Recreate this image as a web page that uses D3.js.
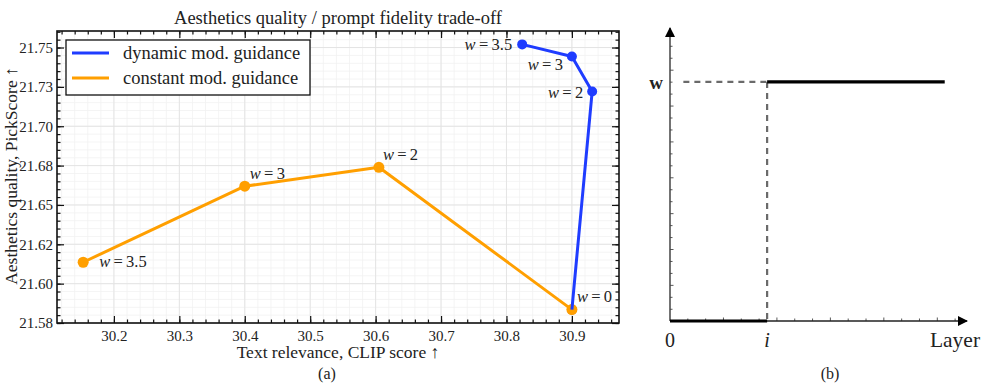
<!DOCTYPE html>
<html>
<head>
<meta charset="utf-8">
<script src="https://cdn.jsdelivr.net/npm/d3@7"></script>
<style>
  body { margin: 0; background: #fff; }
  svg text { font-family: "Liberation Serif", "DejaVu Serif", serif; fill: #222; }
</style>
</head>
<body>
<svg id="chart" width="997" height="387"></svg>
<script>
// panel (a) data
const wLabels = ["0", "2", "3", "3.5"];
const dynamicClip = [30.900, 30.931, 30.900, 30.824];
const dynamicPick = [21.5835, 21.7221, 21.7443, 21.7520];
const constantClip = [30.900, 30.605, 30.400, 30.153];
const constantPick = [21.5835, 21.6739, 21.6619, 21.6136];
const yTicks = [21.575, 21.6, 21.625, 21.65, 21.675, 21.7, 21.725, 21.75];
const yTickLabels = ["21.58", "21.60", "21.62", "21.65", "21.68", "21.70", "21.73", "21.75"];
const xTicks = [30.2, 30.3, 30.4, 30.5, 30.6, 30.7, 30.8, 30.9];
const xTickLabels = ["30.2", "30.3", "30.4", "30.5", "30.6", "30.7", "30.8", "30.9"];

// label placement per point (dx, dy, anchor)
const dynamicLabelPos = [null, [-9, 7, "end"], [-9, 13, "end"], [-10, 6, "end"]];
const constantLabelPos = [[5, -8, "start"], [4, -7, "start"], [5, -7, "start"], [16, 5, "start"]];

// panel (b) schematic: step of the guidance scale over layers
const stepLayer = [0, 0.327, 0.327, 0.925];
const stepScale = [0, 0, 0.816, 0.816];
const iLayer = 0.327, wLevel = 0.816;

const blue = "#1f3cff", orange = "#ff9f00";

const svg = d3.select("#chart");

// ---------- panel (a) ----------
const m = { left: 57, top: 31, right: 619, bottom: 323 };
const x = d3.scaleLinear().domain([30.113, 30.972]).range([m.left, m.right]);
const y = d3.scaleLinear().domain([21.575, 21.7605]).range([m.bottom, m.top]);

const a = svg.append("g");

const xMinor = d3.range(30.12, 30.97, 0.02);
const yMinor = d3.range(21.575, 21.76, 0.005);

// grid
a.append("g").selectAll("line").data(xMinor).join("line")
  .attr("x1", d => x(d)).attr("x2", d => x(d)).attr("y1", m.top).attr("y2", m.bottom)
  .attr("stroke", "#f1f1f1").attr("stroke-width", 0.8);
a.append("g").selectAll("line").data(yMinor).join("line")
  .attr("y1", d => y(d)).attr("y2", d => y(d)).attr("x1", m.left).attr("x2", m.right)
  .attr("stroke", "#f1f1f1").attr("stroke-width", 0.8);
a.append("g").selectAll("line").data(xTicks).join("line")
  .attr("x1", d => x(d)).attr("x2", d => x(d)).attr("y1", m.top).attr("y2", m.bottom)
  .attr("stroke", "#e2e2e2").attr("stroke-width", 0.9);
a.append("g").selectAll("line").data(yTicks).join("line")
  .attr("y1", d => y(d)).attr("y2", d => y(d)).attr("x1", m.left).attr("x2", m.right)
  .attr("stroke", "#e2e2e2").attr("stroke-width", 0.9);

// axes with inward ticks on all sides
function styleAxis(g) {
  g.select(".domain").remove();
  g.selectAll(".tick line").attr("stroke", "#111").attr("stroke-width", 1.2);
  g.selectAll("text").attr("font-size", 15).attr("font-family", "Liberation Serif").attr("fill", "#222");
}
a.append("g").attr("transform", `translate(0,${m.bottom})`)
  .call(d3.axisBottom(x).tickValues(xTicks).tickSize(-7).tickPadding(7)
    .tickFormat((d, i) => xTickLabels[i])).call(styleAxis);
a.append("g").attr("transform", `translate(0,${m.bottom})`)
  .call(d3.axisBottom(x).tickValues(xMinor).tickSize(-3.5).tickFormat("")).call(styleAxis);
a.append("g").attr("transform", `translate(0,${m.top})`)
  .call(d3.axisTop(x).tickValues(xTicks).tickSize(-7).tickFormat("")).call(styleAxis);
a.append("g").attr("transform", `translate(0,${m.top})`)
  .call(d3.axisTop(x).tickValues(xMinor).tickSize(-3.5).tickFormat("")).call(styleAxis);
a.append("g").attr("transform", `translate(${m.left},0)`)
  .call(d3.axisLeft(y).tickValues(yTicks).tickSize(-7).tickPadding(4)
    .tickFormat((d, i) => yTickLabels[i])).call(styleAxis);
a.append("g").attr("transform", `translate(${m.left},0)`)
  .call(d3.axisLeft(y).tickValues(yMinor).tickSize(-3.5).tickFormat("")).call(styleAxis);
a.append("g").attr("transform", `translate(${m.right},0)`)
  .call(d3.axisRight(y).tickValues(yTicks).tickSize(-7).tickFormat("")).call(styleAxis);
a.append("g").attr("transform", `translate(${m.right},0)`)
  .call(d3.axisRight(y).tickValues(yMinor).tickSize(-3.5).tickFormat("")).call(styleAxis);

a.append("rect").attr("x", m.left).attr("y", m.top)
  .attr("width", m.right - m.left).attr("height", m.bottom - m.top)
  .attr("fill", "none").attr("stroke", "#111").attr("stroke-width", 1.6);

// series
const line = d3.line().x(d => x(d[0])).y(d => y(d[1]));
const dynPts = dynamicClip.map((v, i) => [v, dynamicPick[i]]);
const conPts = constantClip.map((v, i) => [v, constantPick[i]]);

function drawLabels(pts, labelPos) {
  pts.forEach((p, i) => {
    const lp = labelPos[i];
    if (!lp) return;
    const t = a.append("text").attr("x", x(p[0]) + lp[0]).attr("y", y(p[1]) + lp[1])
      .attr("text-anchor", lp[2]).attr("font-size", 16.5);
    t.append("tspan").attr("font-style", "italic").text("w");
    t.append("tspan").text("\u2009=\u2009" + wLabels[i]);
  });
}

// blue markers (w = 0 is covered by the orange one), then orange, then blue line on top
a.append("g").selectAll("circle").data(dynPts).join("circle")
  .attr("cx", d => x(d[0])).attr("cy", d => y(d[1])).attr("r", 5).attr("fill", blue);
a.append("path").datum(conPts).attr("d", line)
  .attr("fill", "none").attr("stroke", orange).attr("stroke-width", 3).attr("stroke-linejoin", "round");
a.append("g").selectAll("circle").data(conPts).join("circle")
  .attr("cx", d => x(d[0])).attr("cy", d => y(d[1])).attr("r", 5.5).attr("fill", orange);
a.append("path").datum(dynPts).attr("d", line)
  .attr("fill", "none").attr("stroke", blue).attr("stroke-width", 3).attr("stroke-linejoin", "round");
drawLabels(conPts, constantLabelPos);
drawLabels(dynPts, dynamicLabelPos);

// legend
const lg = a.append("g").attr("transform", "translate(66,40)");
lg.append("rect").attr("width", 244).attr("height", 55).attr("fill", "#fff")
  .attr("stroke", "#111").attr("stroke-width", 1.3);
[["dynamic mod. guidance", blue], ["constant mod. guidance", orange]].forEach((e, i) => {
  lg.append("line").attr("x1", 6).attr("x2", 43).attr("y1", 13 + i * 25).attr("y2", 13 + i * 25)
    .attr("stroke", e[1]).attr("stroke-width", 3);
  lg.append("text").attr("x", 57).attr("y", 19 + i * 25).attr("font-size", 18.5).text(e[0]);
});

// titles
a.append("text").attr("x", 338).attr("y", 24).attr("text-anchor", "middle")
  .attr("font-size", 18.5).text("Aesthetics quality / prompt fidelity trade-off");
a.append("text").attr("x", 338).attr("y", 358).attr("text-anchor", "middle")
  .attr("font-size", 17.5).text("Text relevance, CLIP score \u2191");
a.append("text").attr("transform", "translate(17,176) rotate(-90)").attr("text-anchor", "middle")
  .attr("font-size", 17.5).text("Aesthetics quality, PickScore \u2191");
a.append("text").attr("x", 327).attr("y", 379).attr("text-anchor", "middle")
  .attr("font-size", 16).text("(a)");

// ---------- panel (b) ----------
const bx = d3.scaleLinear().domain([0, 1]).range([670, 967]);
const by = d3.scaleLinear().domain([0, 1]).range([321, 28]);
const b = svg.append("g");

const defs = svg.append("defs");
defs.append("marker").attr("id", "arrow").attr("viewBox", "0 0 10 10")
  .attr("refX", 9).attr("refY", 5).attr("markerWidth", 10).attr("markerHeight", 10)
  .attr("markerUnits", "userSpaceOnUse").attr("orient", "auto")
  .append("path").attr("d", "M0,0 L10,5 L0,10 Z").attr("fill", "#000");

// minor ticks on the schematic axes
const bYTicks = d3.range(0.04, 0.98, 0.0408);
const bXTicks = d3.range(0.06, 0.97, 0.06);
b.append("g").selectAll("line").data(bYTicks).join("line")
  .attr("x1", bx(0)).attr("x2", (d, i) => bx(0) + (i % 3 === 2 ? 3.5 : 2.5))
  .attr("y1", d => by(d)).attr("y2", d => by(d)).attr("stroke", "#444").attr("stroke-width", 0.9);
b.append("g").selectAll("line").data(bXTicks).join("line")
  .attr("x1", d => bx(d)).attr("x2", d => bx(d))
  .attr("y1", by(0)).attr("y2", (d, i) => by(0) - (i % 3 === 2 ? 3.5 : 2.5))
  .attr("stroke", "#444").attr("stroke-width", 0.9);

b.append("line").attr("x1", bx(0)).attr("x2", bx(0)).attr("y1", by(0)).attr("y2", by(1))
  .attr("stroke", "#444").attr("stroke-width", 1.5).attr("marker-end", "url(#arrow)");
b.append("line").attr("x1", bx(0)).attr("x2", bx(1)).attr("y1", by(0)).attr("y2", by(0))
  .attr("stroke", "#222").attr("stroke-width", 1.3).attr("marker-end", "url(#arrow)");

// dashed guides
b.append("line").attr("x1", bx(0.045)).attr("x2", bx(iLayer)).attr("y1", by(wLevel)).attr("y2", by(wLevel))
  .attr("stroke", "#6a6a6a").attr("stroke-width", 2.2).attr("stroke-dasharray", "6,5");
b.append("line").attr("x1", bx(iLayer)).attr("x2", bx(iLayer)).attr("y1", by(wLevel)).attr("y2", by(0))
  .attr("stroke", "#6a6a6a").attr("stroke-width", 2.2).attr("stroke-dasharray", "6,5");

// step curve (bottom and top segments)
const stepLine = d3.line().x(d => bx(d[0])).y(d => by(d[1]));
b.append("path").datum(stepLayer.slice(0, 2).map((v, i) => [v, stepScale[i]]))
  .attr("d", stepLine).attr("stroke", "#000").attr("stroke-width", 3).attr("fill", "none");
b.append("path").datum(stepLayer.slice(2).map((v, i) => [v, stepScale[i + 2]]))
  .attr("d", stepLine).attr("stroke", "#000").attr("stroke-width", 3.2).attr("fill", "none");

b.append("text").attr("x", bx(0) - 7).attr("y", by(wLevel) + 7).attr("text-anchor", "end")
  .attr("font-size", 19).attr("font-weight", "bold").attr("fill", "#000").text("w");
b.append("text").attr("x", bx(0)).attr("y", 347).attr("text-anchor", "middle")
  .attr("font-size", 20).attr("fill", "#000").text("0");
b.append("text").attr("x", bx(iLayer)).attr("y", 347).attr("text-anchor", "middle")
  .attr("font-size", 20).attr("font-style", "italic").attr("fill", "#000").text("i");
b.append("text").attr("x", 955).attr("y", 347).attr("text-anchor", "middle")
  .attr("font-size", 21.5).attr("fill", "#000").text("Layer");
b.append("text").attr("x", 830).attr("y", 379).attr("text-anchor", "middle")
  .attr("font-size", 16).attr("fill", "#000").text("(b)");
</script>
</body>
</html>
